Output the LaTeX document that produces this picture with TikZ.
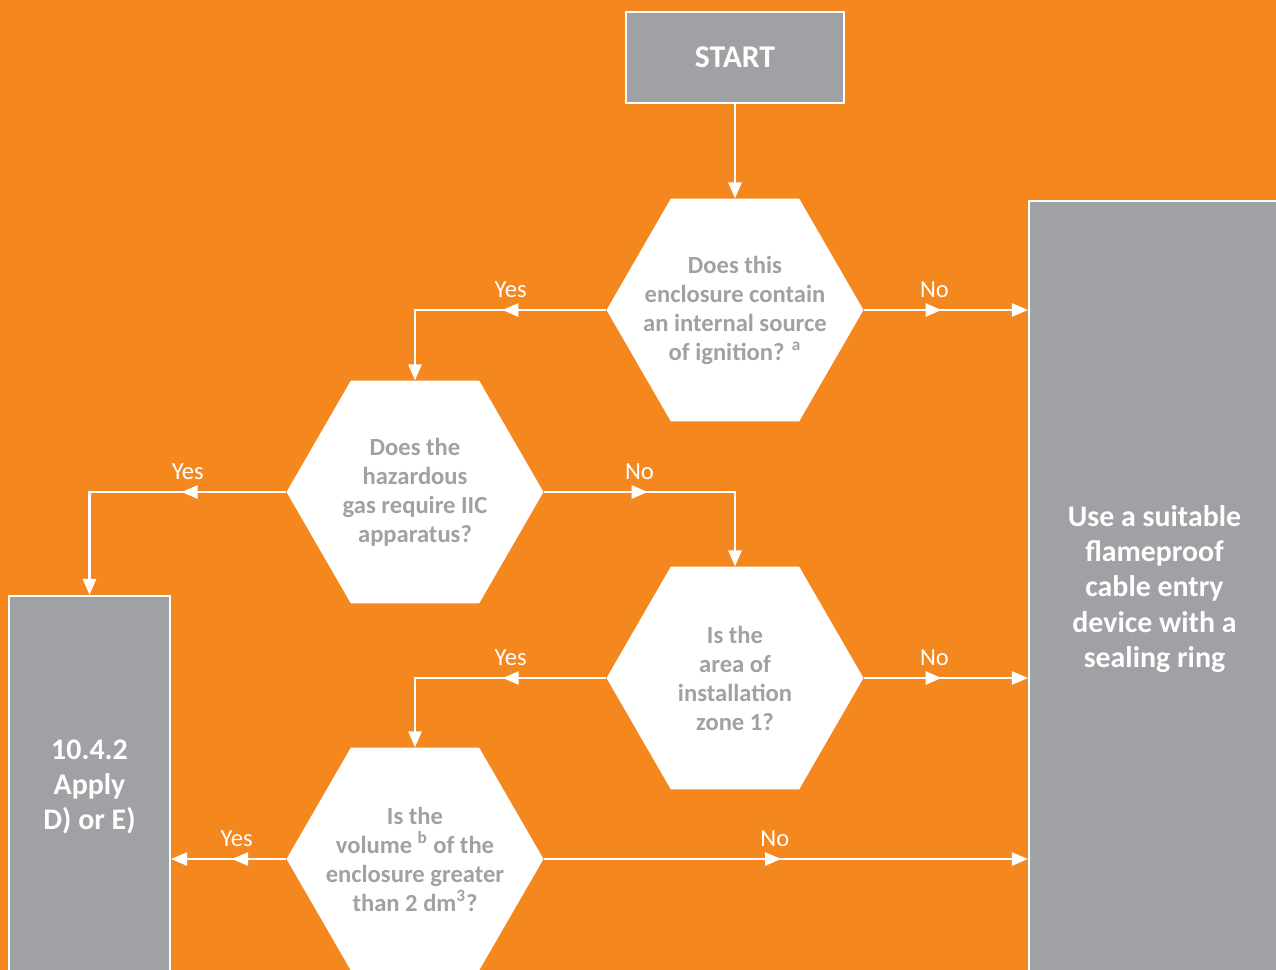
\documentclass[tikz,border=0pt]{standalone}
\usepackage{fontspec}
\setmainfont{Carlito}
\usepackage{xcolor}
\usetikzlibrary{arrows.meta,positioning,calc,shapes.geometric,decorations.markings}
\definecolor{flowOrange}{HTML}{F5871F}
\definecolor{flowGrey}{HTML}{A0A1A5}

\tikzset{
  hexq/.style={regular polygon, regular polygon sides=6, minimum size=5.14cm, inner sep=0pt, fill=white},
  qtext/.style={text=flowGrey, font=\fontsize{14}{16.5}\selectfont\bfseries, align=center},
  endbox/.style={fill=flowGrey, draw=white, line width=1.2pt, text=white, font=\fontsize{17}{20}\selectfont\bfseries, align=center, inner sep=0pt},
  flow/.style={color=white, line width=1.4pt, -{Triangle[length=0.32cm,width=0.26cm]}},
  lbl/.style={above=3pt, text=white, font=\fontsize{14}{16}\selectfont},
  midtip/.style={postaction={decorate}, decoration={markings, mark=at position #1 with {\arrow{Triangle[length=0.32cm,width=0.26cm]}}}}
}

\begin{document}
\begin{tikzpicture}[x=0.02cm, y=-0.02cm]
  \useasboundingbox (0,0) rectangle (1276,970);
  \clip (0,0) rectangle (1276,970);
  \fill[flowOrange] (0,0) rectangle (1276,970);

  % Define nodes
  \node[endbox, minimum width=4.36cm, minimum height=1.82cm, font=\fontsize{18}{21}\selectfont\bfseries] (start) at (735,57.5) {START};
  \node[endbox, minimum width=5.02cm, minimum height=15.54cm] (useseal) at (1154.5,589) {Use a suitable\\flameproof\\cable entry\\device with a\\sealing ring};
  \node[endbox, minimum width=3.22cm, minimum height=7.64cm] (apply) at (89.5,787) {10.4.2\\Apply\\D) or E)};

  \node[hexq] (qsource) at (735,310) {};
  \node[hexq] (qgas) at (415,492) {};
  \node[hexq] (qzone) at (735,678) {};
  \node[hexq] (qvol) at (415,859) {};

  % Add texts inside hexagons
  \node[qtext] (qsourcet) at (qsource) {Does this\\enclosure contain\\an internal source\\of ignition? \textsuperscript{a}};
  \node[qtext] (qgast) at (qgas) {Does the\\hazardous\\gas require IIC\\apparatus?};
  \node[qtext] (qzonet) at (qzone) {Is the\\area of\\installation\\zone 1?};
  \node[qtext] (qvolt) at (qvol) {Is the\\volume \textsuperscript{b} of the\\enclosure greater\\than 2 dm\textsuperscript{3}?};

  % Draw arrows
  \draw[flow] (start.south) -- (qsource.north);
  \draw[flow, midtip=0.397] (qsource.west) -- node[lbl] {Yes} (qsource.west -| qgas.north) -- (qgas.north);
  \draw[flow, midtip=0.473] (qsource.east) -- node[lbl, pos=0.43] {No} (qsource.east -| useseal.west);
  \draw[flow, midtip=0.349] (qgas.west) -- node[lbl] {Yes} (qgas.west -| apply.north) -- (apply.north);
  \draw[flow, midtip=0.391] (qgas.east) -- node[lbl] {No} (qgas.east -| qzone.north) -- (qzone.north);
  \draw[flow, midtip=0.397] (qzone.west) -- node[lbl] {Yes} (qzone.west -| qvol.north) -- (qvol.north);
  \draw[flow, midtip=0.473] (qzone.east) -- node[lbl, pos=0.43] {No} (qzone.east -| useseal.west);
  \draw[flow, midtip=0.47] (qvol.west) -- node[lbl, pos=0.43] {Yes} (qvol.west -| apply.east);
  \draw[flow, midtip=0.49] (qvol.east) -- node[lbl, pos=0.477] {No} (qvol.east -| useseal.west);
\end{tikzpicture}
\end{document}
